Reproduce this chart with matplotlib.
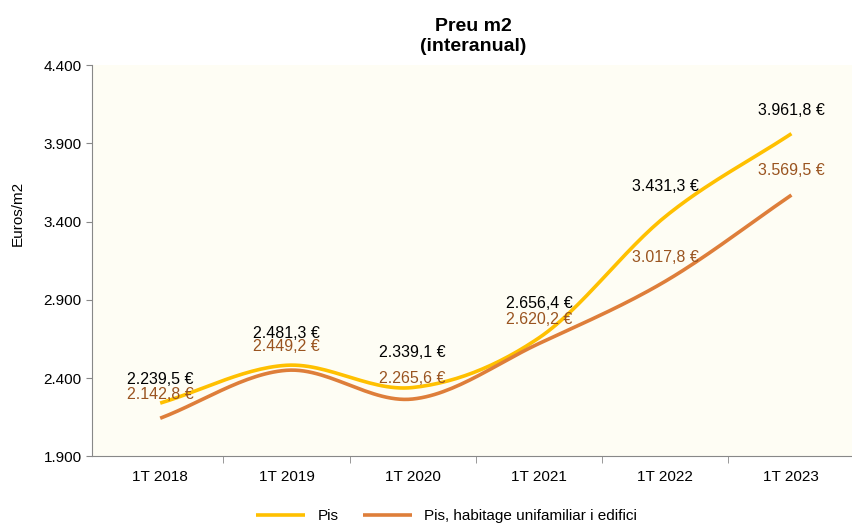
import matplotlib
matplotlib.use('Agg')
import matplotlib.pyplot as plt
import numpy as np
from matplotlib.ticker import FuncFormatter

plt.rcParams['font.family'] = ['Liberation Sans', 'DejaVu Sans']

categories = ['1T 2018', '1T 2019', '1T 2020', '1T 2021', '1T 2022', '1T 2023']
pis = [2239.5, 2481.3, 2339.1, 2656.4, 3431.3, 3961.8]
pis_unifam = [2142.8, 2449.2, 2265.6, 2620.2, 3017.8, 3569.5]
series_labels = ['Pis', 'Pis, habitage unifamiliar i edifici']

# label offsets in points above each point
pis_offsets = [17, 23, 25, 25, 22, 17]
unifam_offsets = [17, 17, 15, 17, 17, 18]


def smooth(x, y, n=30):
    # Catmull-Rom style smoothing, like the office "smoothed line"
    x = np.asarray(x, float)
    y = np.asarray(y, float)
    px = np.concatenate([[2 * x[0] - x[1]], x, [2 * x[-1] - x[-2]]])
    py = np.concatenate([[2 * y[0] - y[1]], y, [2 * y[-1] - y[-2]]])
    xs, ys = [], []
    t = np.linspace(0, 1, n)
    for i in range(1, len(px) - 2):
        for arr, out in ((px, xs), (py, ys)):
            p0, p1, p2, p3 = arr[i - 1], arr[i], arr[i + 1], arr[i + 2]
            c1 = p1 + (p2 - p0) / 6
            c2 = p2 - (p3 - p1) / 6
            out.extend((1 - t) ** 3 * p1 + 3 * (1 - t) ** 2 * t * c1
                       + 3 * (1 - t) * t ** 2 * c2 + t ** 3 * p2)
    return np.array(xs), np.array(ys)


def fmt_eur(v):
    s = f'{v:,.1f}'.replace(',', 'X').replace('.', ',').replace('X', '.')
    return s + ' €'


fig = plt.figure(figsize=(8.52, 5.25), dpi=100)
ax = fig.add_axes([0.108, 0.131, 0.895, 0.745])
ax.set_facecolor('#FEFDF4')

x = np.arange(len(categories))
yellow = '#FFC000'
orange = '#DE7E3A'

sx, sy = smooth(x, pis)
ax.plot(sx, sy, color=yellow, lw=2.6, label=series_labels[0], solid_capstyle='butt')
sx, sy = smooth(x, pis_unifam)
ax.plot(sx, sy, color=orange, lw=2.6, label=series_labels[1], solid_capstyle='butt')

for xi, v, off in zip(x, pis, pis_offsets):
    ax.annotate(fmt_eur(v), (xi, v), xytext=(0, off), textcoords='offset points',
                ha='center', va='center', fontsize=11.5, color='black')
for xi, v, off in zip(x, pis_unifam, unifam_offsets):
    ax.annotate(fmt_eur(v), (xi, v), xytext=(0, off), textcoords='offset points',
                ha='center', va='center', fontsize=11.5, color='#9A5420')

ax.set_xlim(-0.54, 5.5)
ax.set_ylim(1900, 4400)
ax.set_yticks(np.arange(1900, 4401, 500))
ax.yaxis.set_major_formatter(FuncFormatter(lambda v, p: f'{int(v):,}'.replace(',', '.')))
ax.set_xticks(x)
ax.set_xticklabels(categories)
ax.set_xticks(np.arange(0.5, 5.5, 1), minor=True)
ax.tick_params(axis='x', which='major', length=0, pad=10, labelsize=11)
ax.tick_params(axis='x', which='minor', length=5, color='#888888')
ax.tick_params(axis='y', length=4, color='#888888', labelsize=11)

for s in ('top', 'right'):
    ax.spines[s].set_visible(False)
for s in ('left', 'bottom'):
    ax.spines[s].set_color('#888888')

ax.set_ylabel('Euros/m2', fontsize=11)
ax.yaxis.set_label_coords(-0.088, 0.62)
ax.set_title('Preu m2\n(interanual)', fontsize=14, fontweight='bold',
             family=['Liberation Sans Narrow', 'Liberation Sans'], pad=10,
             linespacing=1.25)

ax.legend(loc='upper center', bbox_to_anchor=(0.465, -0.1), ncol=2, frameon=False,
          fontsize=11, handlelength=3.2, columnspacing=1.6)

fig.savefig('out.png', dpi=100)
